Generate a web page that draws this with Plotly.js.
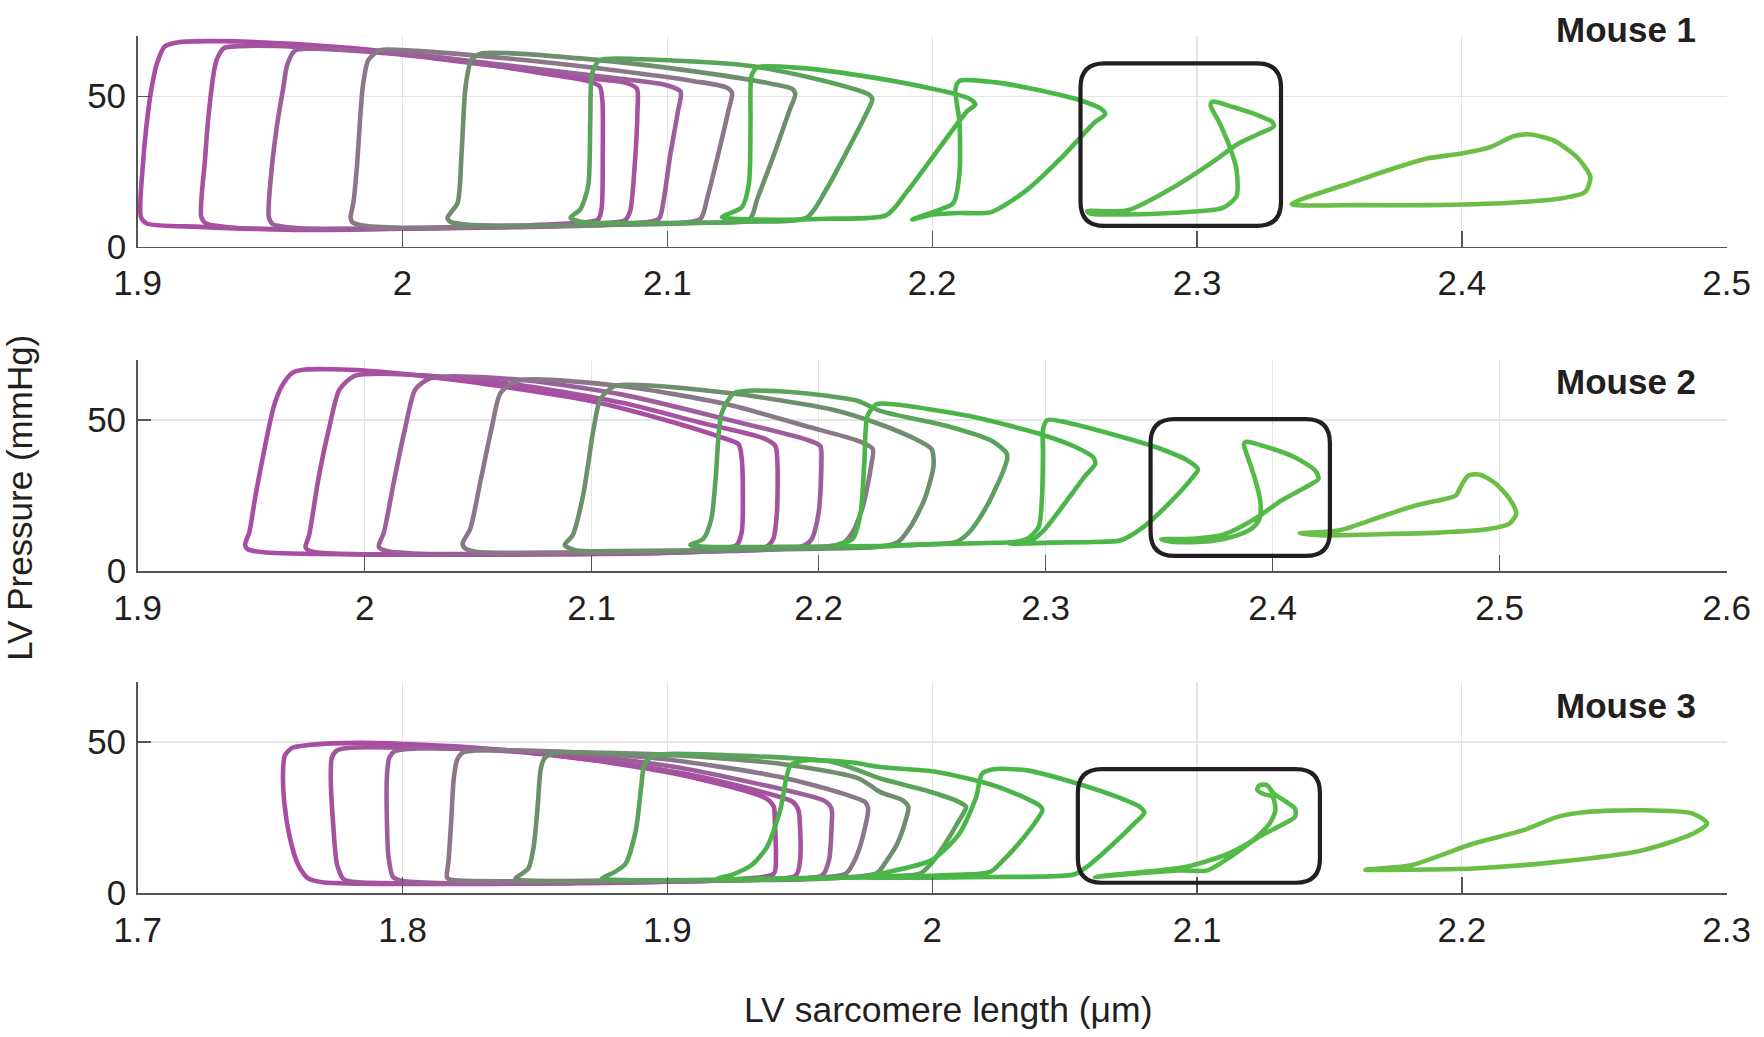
<!DOCTYPE html>
<html>
<head>
<meta charset="utf-8">
<script src="https://cdn.plot.ly/plotly-3.0.1.min.js"></script>
<style>html,body{margin:0;padding:0;background:#fff;}#chart{width:1764px;height:1037px;}</style>
</head>
<body>
<div id="chart"></div>
<script>
// ---------------- DATA ----------------
const panelNames = ['Mouse 1', 'Mouse 2', 'Mouse 3'];
const xTitle = 'LV sarcomere length (\u03bcm)';
const yTitle = 'LV Pressure (mmHg)';

const p1TickVals = [1.9, 2.0, 2.1, 2.2, 2.3, 2.4, 2.5];
const p1TickText = ['1.9', '2', '2.1', '2.2', '2.3', '2.4', '2.5'];
const p2TickVals = [1.9, 2.0, 2.1, 2.2, 2.3, 2.4, 2.5, 2.6];
const p2TickText = ['1.9', '2', '2.1', '2.2', '2.3', '2.4', '2.5', '2.6'];
const p3TickVals = [1.7, 1.8, 1.9, 2.0, 2.1, 2.2, 2.3];
const p3TickText = ['1.7', '1.8', '1.9', '2', '2.1', '2.2', '2.3'];
const yTickVals = [0, 50];
const yTickText = ['0', '50'];

// Mouse 1 loops (sarcomere length, pressure)
const m1LoopX = [
  [1.9012,1.9021,1.9040,1.9053,1.9072,1.9102,1.9160,1.9300,1.9600,2.0000,2.0300,2.0550,2.0700,2.0745,2.0755,2.0756,2.0752,2.0738,2.0600,2.0000,1.9600,1.9235,1.9034,1.9012],
  [1.9240,1.9254,1.9266,1.9289,1.9300,1.9326,1.9380,1.9600,2.0000,2.0400,2.0700,2.0840,2.0885,2.0887,2.0875,2.0860,2.0840,2.0600,2.0000,1.9600,1.9350,1.9260,1.9240],
  [1.9495,1.9505,1.9525,1.9550,1.9565,1.9595,1.9650,2.0000,2.0400,2.0800,2.0990,2.1050,2.1040,2.1010,2.0985,2.0967,2.0800,2.0300,1.9900,1.9600,1.9510,1.9495],
  [1.9804,1.9815,1.9827,1.9850,1.9871,1.9916,2.0000,2.0400,2.0800,2.1100,2.1220,2.1244,2.1230,2.1190,2.1150,2.1124,2.0900,2.0400,2.0000,1.9850,1.9810,1.9804],
  [2.0170,2.0208,2.0223,2.0238,2.0260,2.0297,2.0400,2.0800,2.1200,2.1400,2.1470,2.1483,2.1460,2.1400,2.1340,2.1311,2.1100,2.0600,2.0250,2.0180,2.0170],
  [2.0634,2.0671,2.0701,2.0709,2.0716,2.0746,2.0900,2.1300,2.1550,2.1700,2.1760,2.1774,2.1750,2.1680,2.1600,2.1527,2.1300,2.0900,2.0680,2.0634],
  [2.1206,2.1281,2.1308,2.1314,2.1318,2.1341,2.1500,2.1790,2.2000,2.2088,2.2140,2.2163,2.2133,2.2013,2.1909,2.1827,2.1600,2.1350,2.1206],
  [2.1924,2.2013,2.2080,2.2103,2.2103,2.2088,2.2103,2.2238,2.2387,2.2567,2.2641,2.2653,2.2611,2.2492,2.2357,2.2223,2.2100,2.2000,2.1924],
  [2.2585,2.2738,2.2918,2.3072,2.3149,2.3226,2.3290,2.3282,2.3226,2.3136,2.3059,2.3051,2.3085,2.3123,2.3149,2.3149,2.3097,2.2918,2.2738,2.2597,2.2585],
  [2.3358,2.3402,2.3553,2.3742,2.3868,2.3994,2.4107,2.4195,2.4258,2.4346,2.4434,2.4485,2.4466,2.4371,2.4182,2.3868,2.3616,2.3358]
];
const m1LoopY = [
  [9.9,28.7,45.3,53.0,60.7,66.5,68.0,68.3,67.3,64.3,60.8,57.3,55.0,53.2,48.0,31.0,13.0,9.0,7.6,6.0,5.6,6.6,7.7,9.9],
  [9.9,28.7,42.2,58.7,62.5,66.0,66.6,66.4,63.8,59.5,56.0,54.5,52.5,45.0,25.0,12.0,8.8,7.3,6.1,5.8,6.4,7.6,9.9],
  [9.8,25.0,39.7,53.0,60.5,65.2,65.8,64.2,60.2,56.0,53.8,51.5,45.0,30.0,15.0,9.2,7.4,6.3,6.0,6.2,7.5,9.8],
  [9.6,15.0,25.6,53.2,62.0,65.3,65.3,62.5,58.6,55.0,53.0,51.2,45.0,30.0,16.0,9.2,7.6,6.6,6.3,7.0,8.2,9.6],
  [9.6,14.6,31.1,53.2,62.0,64.2,64.3,61.5,57.0,54.0,52.5,50.7,45.0,30.0,16.0,9.2,7.9,7.1,7.3,8.3,9.6],
  [9.6,12.4,20.1,42.2,57.6,62.0,62.3,60.2,56.0,52.5,50.6,49.0,44.0,32.0,19.0,9.7,8.3,7.9,8.2,9.6],
  [9.8,13.1,21.0,41.1,56.8,59.6,59.4,56.0,52.5,50.7,49.2,47.3,45.1,31.1,18.8,10.5,9.3,9.0,9.8],
  [9.0,11.8,14.5,24.4,41.1,52.3,55.1,54.6,52.3,48.4,45.6,44.0,41.1,29.9,18.8,11.5,11.2,10.6,9.0],
  [11.8,12.1,20.1,28.9,33.9,37.2,40.0,41.6,43.8,46.4,48.2,47.1,41.1,33.3,25.6,16.8,12.9,11.3,10.7,11.0,11.8],
  [14.1,16.0,20.4,26.0,29.3,30.9,33.1,36.7,37.3,35.3,29.8,23.2,18.2,16.0,14.6,13.8,13.8,14.1]
];

// Mouse 2 loops
const m2LoopX = [
  [1.9473,1.9492,1.9519,1.9561,1.9600,1.9635,1.9681,1.9738,2.0000,2.0442,2.0996,2.1366,2.1573,2.1647,2.1661,2.1666,2.1661,2.1638,2.1366,2.0673,1.9981,1.9565,1.9485,1.9473],
  [1.9739,1.9755,1.9796,1.9842,1.9889,1.9958,2.0212,2.0673,2.1135,2.1481,2.1758,2.1809,2.1818,2.1816,2.1800,2.1769,2.1481,2.0673,2.0000,1.9796,1.9745,1.9739],
  [2.0062,2.0085,2.0131,2.0177,2.0223,2.0292,2.0673,2.1135,2.1596,2.1942,2.2007,2.2012,2.2000,2.1966,2.1919,2.1596,2.0904,2.0212,2.0096,2.0062],
  [2.0431,2.0465,2.0512,2.0558,2.0599,2.0673,2.1135,2.1596,2.1942,2.2173,2.2238,2.2231,2.2196,2.2150,2.2104,2.1596,2.0904,2.0489,2.0442,2.0431],
  [2.0881,2.0916,2.0962,2.1008,2.1038,2.1100,2.1596,2.2058,2.2270,2.2428,2.2497,2.2506,2.2467,2.2408,2.2349,2.2270,2.1827,2.1135,2.0927,2.0881],
  [2.1435,2.1492,2.1527,2.1546,2.1573,2.1631,2.1827,2.2173,2.2270,2.2565,2.2762,2.2825,2.2831,2.2811,2.2742,2.2664,2.2605,2.2467,2.2270,2.1827,2.1504,2.1435],
  [2.2081,2.2150,2.2185,2.2201,2.2215,2.2254,2.2329,2.2664,2.2978,2.3136,2.3210,2.3218,2.3175,2.3077,2.2998,2.2949,2.2860,2.2467,2.2289,2.2127,2.2081],
  [2.2841,2.2919,2.2969,2.2984,2.2988,2.2988,2.3008,2.3096,2.3293,2.3490,2.3627,2.3671,2.3647,2.3549,2.3431,2.3332,2.3214,2.3018,2.2900,2.2841],
  [2.3509,2.3647,2.3785,2.3922,2.4040,2.4158,2.4202,2.4188,2.4099,2.3981,2.3883,2.3873,2.3893,2.3922,2.3946,2.3942,2.3912,2.3844,2.3726,2.3568,2.3509],
  [2.4119,2.4296,2.4473,2.4630,2.4748,2.4807,2.4831,2.4862,2.4915,2.4984,2.5043,2.5073,2.5043,2.4945,2.4729,2.4434,2.4237,2.4119]
];
const m2LoopY = [
  [8.6,12.9,25.0,41.4,54.6,61.2,65.6,66.7,66.4,62.8,56.3,49.1,44.2,42.0,37.1,25.0,12.9,8.6,6.1,5.5,5.5,6.1,7.2,8.6],
  [8.0,11.8,30.5,46.9,60.1,64.7,65.0,61.7,55.7,49.1,43.9,41.4,36.0,19.5,10.7,8.0,6.4,5.5,5.5,6.1,7.2,8.0],
  [8.0,12.9,30.5,46.9,60.1,63.9,63.4,58.4,50.2,43.6,41.4,36.0,19.5,10.2,8.0,6.6,5.8,5.8,6.6,8.0],
  [9.1,14.0,30.5,46.9,59.0,63.0,61.2,55.2,48.0,43.1,40.4,34.9,21.7,12.9,9.1,6.9,6.1,6.4,7.5,9.1],
  [8.6,11.8,25.0,46.9,56.8,61.2,59.0,53.5,48.6,43.6,40.4,34.9,23.9,15.1,9.6,8.0,7.2,6.6,6.9,8.6],
  [8.6,10.7,17.3,30.5,52.4,59.0,59.5,56.3,53.0,48.0,43.1,39.3,37.6,32.7,21.7,12.9,9.6,8.8,8.3,8.0,8.0,8.6],
  [8.6,10.7,19.5,36.0,51.3,55.2,55.2,51.3,45.3,40.9,37.6,35.4,31.6,21.7,14.0,10.7,9.6,8.8,8.2,8.3,8.6],
  [9.1,10.7,14.6,25.0,39.3,46.9,50.0,49.1,45.3,40.9,36.5,33.6,31.0,22.8,14.6,10.2,9.6,9.4,9.1,9.1],
  [10.5,10.7,12.1,17.3,23.4,28.3,30.5,33.2,37.6,40.9,42.8,42.0,37.1,30.5,22.8,17.3,14.3,11.8,9.9,9.6,10.5],
  [12.4,13.5,17.9,21.7,23.7,25.0,28.3,31.6,31.9,28.8,23.9,19.0,15.7,13.8,12.7,12.1,11.8,12.4]
];

// Mouse 3 loops
const m3LoopX = [
  [1.7628,1.7604,1.7574,1.7554,1.7549,1.7556,1.7584,1.7644,1.7842,1.8238,1.8634,1.9030,1.9287,1.9376,1.9402,1.9406,1.9410,1.9402,1.9228,1.8634,1.8040,1.7703,1.7644,1.7628],
  [1.7772,1.7752,1.7737,1.7729,1.7733,1.7752,1.7802,1.8040,1.8436,1.8832,1.9129,1.9406,1.9475,1.9495,1.9501,1.9501,1.9485,1.9228,1.8634,1.8040,1.7822,1.7782,1.7772],
  [1.7964,1.7947,1.7941,1.7941,1.7950,1.7970,1.8020,1.8238,1.8634,1.9030,1.9426,1.9594,1.9620,1.9620,1.9610,1.9584,1.9327,1.8634,1.8139,1.8000,1.7964],
  [1.8168,1.8174,1.8184,1.8194,1.8208,1.8228,1.8277,1.8634,1.9030,1.9426,1.9663,1.9747,1.9758,1.9747,1.9713,1.9673,1.9426,1.8832,1.8238,1.8182,1.8168],
  [1.8426,1.8475,1.8495,1.8511,1.8521,1.8535,1.8558,1.8604,1.9030,1.9426,1.9723,1.9804,1.9889,1.9910,1.9900,1.9868,1.9825,1.9790,1.9525,1.8832,1.8475,1.8426],
  [1.8752,1.8802,1.8842,1.8881,1.8901,1.8911,1.8931,1.8980,1.9228,1.9624,1.9804,1.9974,2.0102,2.0128,2.0102,2.0049,1.9996,1.9953,1.9804,1.9426,1.8832,1.8752],
  [1.9188,1.9248,1.9317,1.9376,1.9426,1.9450,1.9465,1.9515,1.9700,1.9804,2.0017,2.0230,2.0358,2.0405,2.0416,2.0390,2.0326,2.0262,2.0219,2.0017,1.9804,1.9426,1.9188],
  [1.9750,1.9804,1.9996,2.0102,2.0166,2.0188,2.0230,2.0358,2.0550,2.0699,2.0784,2.0801,2.0763,2.0678,2.0592,2.0539,2.0443,2.0230,2.0017,1.9850,1.9750],
  [2.0614,2.0763,2.0933,2.1040,2.1125,2.1232,2.1317,2.1370,2.1370,2.1328,2.1290,2.1264,2.1236,2.1227,2.1253,2.1285,2.1296,2.1274,2.1210,2.1104,2.0955,2.0827,2.0656,2.0614],
  [2.1636,2.1807,2.2041,2.2233,2.2361,2.2468,2.2680,2.2872,2.2926,2.2872,2.2680,2.2361,2.2041,2.1807,2.1636]
];
const m3LoopY = [
  [6.2,9.7,18.5,29.6,40.6,45.6,48.1,49.0,49.7,48.3,45.0,39.5,34.0,31.2,28.5,23.0,11.9,6.4,4.4,3.2,3.0,3.5,4.8,6.2],
  [5.1,9.7,24.1,38.4,44.8,47.2,48.1,48.1,46.7,42.8,38.4,32.3,30.1,27.4,21.9,10.8,5.8,4.2,3.3,3.1,3.6,4.4,5.1],
  [5.3,11.9,24.1,38.4,44.8,46.9,47.7,47.8,46.1,41.7,34.5,30.5,27.9,21.9,10.8,5.8,4.4,3.5,3.3,4.0,5.3],
  [5.1,10.8,24.1,38.4,44.5,46.5,47.2,46.7,43.9,38.4,32.9,30.1,27.9,21.9,11.9,6.4,4.7,4.0,4.0,4.4,5.1],
  [4.7,8.1,15.2,29.6,40.6,44.5,45.9,46.5,45.6,42.8,37.9,33.4,30.7,28.5,24.1,16.3,10.3,6.5,4.6,4.1,4.1,4.7],
  [4.7,7.0,9.7,20.8,35.1,41.7,44.5,45.9,45.6,43.4,37.9,34.0,30.1,28.5,24.1,16.3,9.7,6.4,5.5,4.7,4.3,4.7],
  [4.7,6.2,9.2,15.2,27.4,38.4,42.3,43.9,43.2,41.7,40.1,35.7,31.2,29.0,27.4,23.5,16.3,10.3,7.0,5.8,5.3,4.8,4.7],
  [5.2,6.4,10.8,19.6,31.8,39.5,41.0,40.6,36.2,31.8,28.5,26.5,23.0,15.8,9.2,6.2,5.5,5.3,5.1,5.1,5.2],
  [5.3,6.4,7.5,7.5,11.9,18.5,22.4,25.2,27.9,30.7,32.9,35.7,35.7,34.2,32.7,31.9,27.4,23.0,17.4,12.5,8.6,7.2,5.8,5.3],
  [7.7,9.2,16.3,20.8,25.2,26.8,27.4,26.3,23.0,19.6,14.1,10.3,8.1,7.7,7.7]
];

// loop colours, from smallest (magenta) to largest (green)
const loopColors = ['#A94CA3','#A5529F','#9C5F9C','#8A7889','#6E8E6E','#5AA35A','#4AB449','#4AB848','#55BA48','#6BBF46'];

// highlighted regions [xmin, xmax, ymin, ymax] per panel
const boxRanges = [
  [2.2560, 2.3317, 6.9, 60.9],
  [2.3462, 2.4252, 5.0, 50.3],
  [2.0550, 2.1464, 3.4, 41.0]
];

const xRanges = [[1.9, 2.5], [1.9, 2.6], [1.7, 2.3]];
const yRange = [0, 70];

// ---------------- LAYOUT ----------------
const W = 1764, H = 1037;
const FONT = 'Liberation Sans, Arial, Helvetica, sans-serif';
const TXT = '#231F20';
const AX = '#555555';
const plotLeft = 137.7, plotRight = 1726.7;
const panelPx = [[36.0, 246.7], [359.6, 571.0], [681.6, 893.0]]; // top, bottom in px
const labelCenterPx = [29.5, 381.0, 705.0];

const xDomain = [plotLeft / W, plotRight / W];
const yDomains = panelPx.map(p => [1 - p[1] / H, 1 - p[0] / H]);

const allX = [m1LoopX, m2LoopX, m3LoopX];
const allY = [m1LoopY, m2LoopY, m3LoopY];
const tickVals = [p1TickVals, p2TickVals, p3TickVals];
const tickText = [p1TickText, p2TickText, p3TickText];

const traces = [];
for (let p = 0; p < 3; p++) {
  const xa = p === 0 ? 'x' : 'x' + (p + 1);
  const ya = p === 0 ? 'y' : 'y' + (p + 1);
  for (let i = 0; i < allX[p].length; i++) {
    traces.push({
      type: 'scatter', mode: 'lines',
      x: allX[p][i], y: allY[p][i],
      xaxis: xa, yaxis: ya,
      line: {color: loopColors[i], width: 4.6, shape: 'spline', smoothing: 0.7},
      hoverinfo: 'skip', showlegend: false
    });
  }
}

const layout = {
  width: W, height: H,
  margin: {l: 0, r: 0, t: 0, b: 0, pad: 0},
  paper_bgcolor: '#ffffff', plot_bgcolor: '#ffffff',
  font: {family: FONT, color: TXT, size: 35},
  showlegend: false,
  shapes: [], annotations: []
};

for (let p = 0; p < 3; p++) {
  const xk = p === 0 ? 'xaxis' : 'xaxis' + (p + 1);
  const yk = p === 0 ? 'yaxis' : 'yaxis' + (p + 1);
  const ya = p === 0 ? 'y' : 'y' + (p + 1);
  const xa = p === 0 ? 'x' : 'x' + (p + 1);
  layout[xk] = {
    domain: xDomain, anchor: ya, range: xRanges[p],
    tickmode: 'array', tickvals: tickVals[p], ticktext: tickText[p],
    ticks: 'inside', ticklen: 16, tickwidth: 1.4, tickcolor: AX,
    showline: true, linecolor: AX, linewidth: 1.6,
    showgrid: true, gridcolor: '#E5E5E5', gridwidth: 1.2,
    zeroline: false, fixedrange: true,
    tickfont: {family: FONT, size: 35, color: TXT},
    ticklabelstandoff: 5
  };
  layout[yk] = {
    domain: yDomains[p], anchor: xa, range: yRange,
    tickmode: 'array', tickvals: yTickVals, ticktext: yTickText,
    ticks: 'inside', ticklen: 13, tickwidth: 1.4, tickcolor: AX,
    showline: true, linecolor: AX, linewidth: 1.6,
    showgrid: true, gridcolor: '#E5E5E5', gridwidth: 1.2,
    zeroline: false, fixedrange: true,
    tickfont: {family: FONT, size: 35, color: TXT},
    ticklabelstandoff: 3
  };

  // rounded highlight box
  const b = boxRanges[p];
  const pxX = (plotRight - plotLeft) / (xRanges[p][1] - xRanges[p][0]);
  const pxY = (panelPx[p][1] - panelPx[p][0]) / (yRange[1] - yRange[0]);
  const r = 24;
  const rx = r / pxX, ry = r / pxY;
  const [x0, x1, y0, y1] = b;
  const path = `M ${x0 + rx},${y1} L ${x1 - rx},${y1} Q ${x1},${y1} ${x1},${y1 - ry} ` +
    `L ${x1},${y0 + ry} Q ${x1},${y0} ${x1 - rx},${y0} L ${x0 + rx},${y0} ` +
    `Q ${x0},${y0} ${x0},${y0 + ry} L ${x0},${y1 - ry} Q ${x0},${y1} ${x0 + rx},${y1} Z`;
  layout.shapes.push({type: 'path', xref: xa, yref: ya, path: path,
    line: {color: TXT, width: 4.2}, fillcolor: 'rgba(0,0,0,0)', layer: 'above'});

  layout.annotations.push({
    text: '<b>' + panelNames[p] + '</b>', xref: 'paper', yref: 'paper',
    x: 1698 / W, y: 1 - labelCenterPx[p] / H, xanchor: 'right', yanchor: 'middle',
    showarrow: false, font: {family: FONT, size: 35, color: TXT}
  });
}

layout.annotations.push({
  text: xTitle, xref: 'paper', yref: 'paper', x: 947.5 / W, y: 1 - 1010 / H,
  xanchor: 'center', yanchor: 'middle', showarrow: false,
  font: {family: FONT, size: 35.5, color: TXT}
});
layout.annotations.push({
  text: yTitle, xref: 'paper', yref: 'paper', x: 20 / W, y: 1 - 497.8 / H,
  xanchor: 'center', yanchor: 'middle', textangle: -90, showarrow: false,
  font: {family: FONT, size: 35, color: TXT}
});

Plotly.newPlot('chart', traces, layout, {staticPlot: true, displayModeBar: false});
</script>
</body>
</html>
